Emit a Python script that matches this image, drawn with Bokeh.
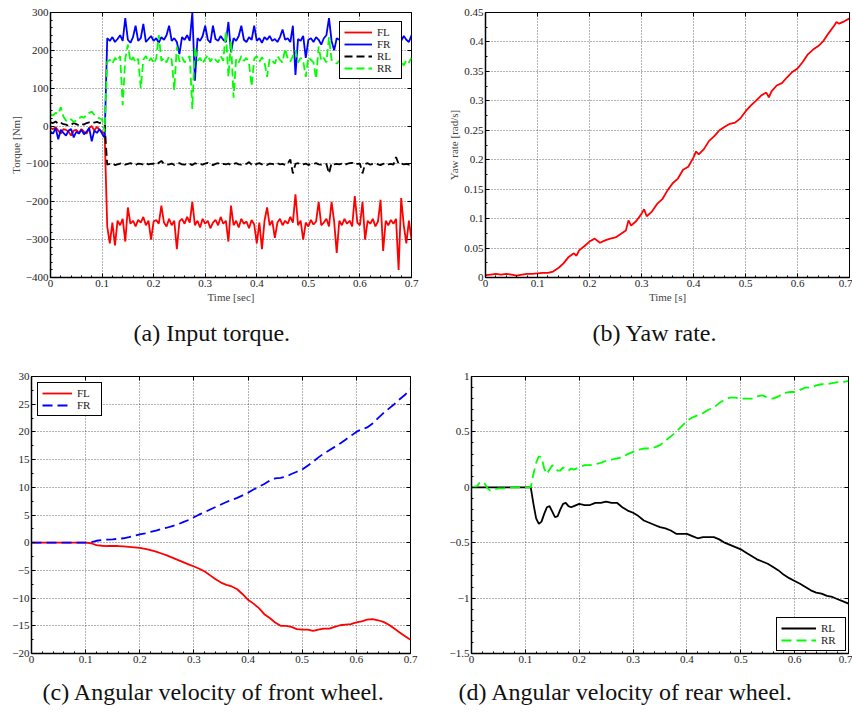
from bokeh.plotting import figure
from bokeh.models import (Range1d, LinearAxis, FixedTicker, Legend, LegendItem,
                          CustomJSTickFormatter, Title, Grid)
from bokeh.layouts import row, column
from bokeh.embed import file_html
from bokeh.resources import INLINE

FONT = "Liberation Serif"

# ---------------- data ----------------
x_ticks = [0.0, 0.1, 0.2, 0.3, 0.4, 0.5, 0.6, 0.7]
torque_ticks = [-400, -300, -200, -100, 0, 100, 200, 300]
yaw_ticks = [0.0, 0.05, 0.1, 0.15, 0.2, 0.25, 0.3, 0.35, 0.4, 0.45]
front_ticks = [-20, -15, -10, -5, 0, 5, 10, 15, 20, 25, 30]
rear_ticks = [-1.5, -1.0, -0.5, 0.0, 0.5, 1.0]

# (a) input torque, sampled every 5 ms
torque_t = [round(0.005 * i, 3) for i in range(141)]
FL_pre = [-5, -8, -3, -12, -20, -8, -10, -15, -25, -12, -10, -18, -8, -15, -20, -5, 0, -12, -2, -10, -15, -20]
FL_post = [-265, -310, -255, -315, -250, -262, -245, -305, -215, -258,
           -250, -265, -248, -255, -240, -262, -250, -300, -252, -248,
           -258, -210, -255, -265, -245, -262, -250, -325, -252, -245,
           -258, -240, -255, -200, -262, -250, -268, -245, -258, -250,
           -270, -255, -248, -262, -240, -258, -250, -305, -210, -262,
           -250, -268, -245, -258, -252, -270, -248, -260, -310, -255,
           -325, -250, -215, -262, -250, -295, -255, -245, -262, -250,
           -258, -240, -255, -180, -262, -250, -300, -255, -265, -248,
           -260, -252, -200, -262, -255, -245, -265, -200, -252, -335,
           -250, -262, -245, -258, -250, -265, -185, -255, -262, -200,
           -300, -250, -258, -245, -265, -252, -195, -330, -250, -262,
           -248, -258, -245, -380, -190, -262, -310, -250, -300]
FR_pre = [-15, -20, -5, -35, -10, -18, -25, -12, -8, -30, -15, -20, -10, -22, -15, -5, -40, -12, -18, -8, -20, -30]
FR_post = [232, 225, 235, 222, 230, 240, 225, 285, 228, 220,
           235, 265, 225, 232, 270, 222, 230, 238, 225, 232,
           220, 235, 228, 240, 265, 225, 232, 222, 190, 235,
           228, 240, 225, 300, 120, 232, 225, 238, 265, 228,
           220, 265, 230, 225, 238, 228, 222, 275, 195, 232,
           225, 238, 265, 228, 222, 235, 228, 265, 225, 232,
           220, 235, 228, 238, 225, 230, 222, 235, 255, 228,
           232, 222, 265, 135, 230, 225, 238, 180, 228, 232,
           222, 235, 228, 215, 232, 240, 285, 225, 200, 232,
           228, 238, 265, 225, 232, 222, 235, 228, 222, 232,
           255, 228, 222, 235, 228, 255, 225, 232, 222, 235,
           255, 228, 222, 232, 225, 238, 228, 222, 240]
RL_pre = [10, 8, 12, 6, 9, 5, 4, 0, 3, 8, 5, 2, 6, 4, 8, 10, 12, 9, 11, 8, 10, 5]
RL_post = [-102, -100, -98, -103, -101, -99, -97, -102, -100, -98,
           -101, -103, -99, -100, -102, -98, -101, -100, -99, -103,
           -97, -92, -100, -102, -101, -99, -103, -100, -98, -101,
           -102, -99, -100, -103, -98, -101, -100, -102, -99, -97,
           -101, -103, -100, -98, -102, -100, -101, -99, -103, -100,
           -98, -101, -102, -99, -100, -95, -102, -104, -100, -98,
           -101, -100, -103, -99, -100, -102, -98, -101, -100, -103,
           -99, -88, -125, -100, -98, -102, -101, -99, -103, -100,
           -100, -98, -101, -102, -99, -100, -125, -98, -101, -100,
           -101, -99, -103, -100, -98, -97, -102, -100, -99, -125,
           -100, -98, -102, -100, -99, -101, -103, -100, -98, -101,
           -100, -102, -82, -100, -99, -101, -100, -102, -99]
RR_pre = [30, 28, 35, 32, 50, 25, 15, 12, 18, 10, 15, 20, 25, 22, 30, 35, 38, 30, 25, 20, 18, -15]
RR_post = [170, 175, 165, 180, 172, 185, 55, 178, 215, 170,
           182, 168, 178, 100, 175, 185, 170, 180, 165, 178,
           240, 172, 180, 168, 185, 175, 95, 210, 170, 182,
           168, 178, 185, 45, 210, 172, 180, 165, 178, 188,
           170, 182, 175, 168, 185, 172, 250, 130, 225, 75,
           178, 168, 185, 172, 180, 165, 105, 178, 185, 170,
           182, 168, 130, 178, 172, 165, 185, 175, 168, 205,
           178, 170, 185, 200, 168, 180, 172, 130, 182, 175,
           168, 125, 210, 172, 180, 168, 235, 175, 170, 165,
           172, 168, 175, 165, 140, 172, 168, 175, 165, 170,
           172, 165, 175, 168, 130, 170, 175, 145, 168, 172,
           165, 175, 170, 168, 172, 160, 175, 168, 180]
torque_FL = FL_pre + FL_post
torque_FR = FR_pre + FR_post
torque_RL = RL_pre + RL_post
torque_RR = RR_pre + RR_post

# (b) yaw rate
yaw_t = [0.00, 0.01, 0.02, 0.03, 0.04, 0.05, 0.06, 0.07, 0.08, 0.09,
         0.10, 0.11, 0.12, 0.13, 0.14, 0.145, 0.15, 0.16, 0.17, 0.175,
         0.18, 0.19, 0.20, 0.21, 0.22, 0.23, 0.24, 0.25, 0.26, 0.27,
         0.275, 0.28, 0.29, 0.30, 0.305, 0.31, 0.32, 0.33, 0.34, 0.35,
         0.36, 0.37, 0.38, 0.39, 0.40, 0.405, 0.41, 0.42, 0.43, 0.44,
         0.45, 0.46, 0.47, 0.48, 0.49, 0.50, 0.51, 0.52, 0.53, 0.54,
         0.545, 0.55, 0.56, 0.57, 0.58, 0.59, 0.60, 0.61, 0.62, 0.63,
         0.64, 0.65, 0.66, 0.67, 0.675, 0.68, 0.69, 0.70]
yaw_rate = [0.004, 0.005, 0.006, 0.005, 0.006, 0.005, 0.003, 0.005, 0.006, 0.006,
            0.007, 0.008, 0.008, 0.010, 0.016, 0.020, 0.024, 0.035, 0.041, 0.037,
            0.046, 0.053, 0.061, 0.066, 0.059, 0.063, 0.066, 0.068, 0.074, 0.080,
            0.097, 0.088, 0.096, 0.108, 0.116, 0.104, 0.112, 0.125, 0.133, 0.148,
            0.160, 0.168, 0.183, 0.188, 0.204, 0.214, 0.209, 0.218, 0.232, 0.240,
            0.250, 0.256, 0.261, 0.263, 0.270, 0.282, 0.292, 0.300, 0.309, 0.314,
            0.306, 0.316, 0.326, 0.330, 0.340, 0.349, 0.355, 0.366, 0.379, 0.387,
            0.393, 0.402, 0.415, 0.427, 0.434, 0.431, 0.435, 0.440]

# (c) angular velocity of front wheels
front_t = [round(0.01 * i, 2) for i in range(71)]
front_FL = [0, 0, 0, 0, 0, 0, 0, 0, 0, 0, 0,
            -0.1, -0.45, -0.55, -0.6, -0.6, -0.6, -0.65, -0.75, -0.85, -0.95,
            -1.1, -1.35, -1.6, -1.95, -2.3, -2.7, -3.1, -3.5, -3.9, -4.3,
            -4.7, -5.2, -5.9, -6.6, -7.2, -7.6, -7.9, -8.4, -9.3, -10.3,
            -11.0, -11.8, -12.9, -13.6, -14.4, -15.0, -15.0, -15.2, -15.6, -15.7,
            -15.7, -15.9, -15.7, -15.5, -15.5, -15.2, -14.9, -14.8, -14.7, -14.4,
            -14.2, -13.9, -13.8, -14.0, -14.3, -14.8, -15.5, -16.2, -16.9, -17.5]
front_FR = [0, 0, 0, 0, 0, 0, 0, 0, 0, 0, 0,
            0.1, 0.35, 0.5, 0.55, 0.6, 0.7, 0.8, 1.0, 1.25, 1.5,
            1.7, 1.95, 2.2, 2.45, 2.7, 3.0, 3.3, 3.7, 4.1, 4.6,
            5.1, 5.5, 6.0, 6.45, 6.9, 7.35, 7.75, 8.1, 8.55, 9.0,
            9.6, 10.1, 10.6, 11.2, 11.6, 11.7, 11.9, 12.4, 12.8, 13.2,
            13.9, 14.6, 15.4, 16.1, 16.7, 17.3, 17.9, 18.6, 19.3, 20.0,
            20.5, 20.8, 21.5, 22.5, 23.4, 24.2, 25.0, 25.9, 26.7, 27.7]

# (d) angular velocity of rear wheels
rear_t = [0.00, 0.01, 0.015, 0.02, 0.025, 0.03, 0.035, 0.04, 0.05, 0.06,
          0.07, 0.08, 0.09, 0.10, 0.11,
          0.115, 0.12, 0.125, 0.13, 0.135, 0.14, 0.145, 0.15, 0.155, 0.16,
          0.165, 0.17, 0.175, 0.18, 0.185, 0.19,
          0.20, 0.21, 0.22, 0.23, 0.24, 0.25, 0.26, 0.27, 0.28, 0.29,
          0.30, 0.31, 0.32, 0.33, 0.34, 0.35, 0.36, 0.37, 0.38, 0.39,
          0.40, 0.41, 0.42, 0.43, 0.44, 0.45, 0.46, 0.47, 0.48, 0.49,
          0.50, 0.51, 0.52, 0.53, 0.54, 0.55, 0.56, 0.57, 0.58, 0.59,
          0.60, 0.61, 0.62, 0.63, 0.64, 0.65, 0.66, 0.67, 0.68, 0.69, 0.70]
rear_RL = [0, 0, 0, 0, 0, 0, 0, 0, 0, 0,
           0, 0, 0, 0, 0,
           -0.15, -0.28, -0.33, -0.31, -0.24, -0.18, -0.17, -0.22, -0.27, -0.26,
           -0.20, -0.15, -0.14, -0.17, -0.18, -0.17,
           -0.15, -0.16, -0.16, -0.14, -0.14, -0.13, -0.14, -0.14, -0.18, -0.21,
           -0.23, -0.26, -0.30, -0.32, -0.34, -0.36, -0.37, -0.39, -0.42, -0.42,
           -0.42, -0.44, -0.46, -0.45, -0.45, -0.45, -0.47, -0.50, -0.52, -0.54,
           -0.56, -0.59, -0.62, -0.65, -0.67, -0.69, -0.72, -0.75, -0.79, -0.82,
           -0.845, -0.87, -0.90, -0.93, -0.95, -0.96, -0.98, -0.99, -1.01, -1.03, -1.05]
rear_RR = [0.0, 0.01, 0.04, 0.05, 0.03, -0.01, -0.03, -0.02, -0.01, -0.01,
           0.0, 0.0, 0.0, 0.0, 0.0,
           0.12, 0.22, 0.28, 0.27, 0.17, 0.12, 0.16, 0.20, 0.18, 0.15,
           0.15, 0.18, 0.16, 0.15, 0.17, 0.16,
           0.18, 0.20, 0.20, 0.21, 0.22, 0.24, 0.25, 0.26, 0.27, 0.30,
           0.32, 0.34, 0.35, 0.35, 0.36, 0.38, 0.42, 0.46, 0.50, 0.55,
           0.60, 0.63, 0.65, 0.67, 0.70, 0.72, 0.76, 0.79, 0.81, 0.81,
           0.80, 0.80, 0.80, 0.82, 0.83, 0.81, 0.80, 0.82, 0.85, 0.86,
           0.86, 0.88, 0.90, 0.90, 0.92, 0.93, 0.93, 0.94, 0.95, 0.95, 0.96]

# ---------------- helpers ----------------
FMT_CODE = """
var v = Math.round(tick * 1000) / 1000;
return String(v).replace('-', '\\u2212');
"""


def minors(ticks, n):
    out = []
    for a, b in zip(ticks[:-1], ticks[1:]):
        step = (b - a) / n
        out += [a + step * k for k in range(1, n)]
    return out


def hidden_axis(p, side, positions, length):
    ax = LinearAxis(ticker=FixedTicker(ticks=[], minor_ticks=positions))
    ax.major_tick_in = 0
    ax.major_tick_out = 0
    ax.minor_tick_in = length
    ax.minor_tick_out = 0
    ax.minor_tick_line_color = "black"
    ax.axis_line_color = None
    ax.major_label_standoff = 0
    p.add_layout(ax, side)


def build(w, h, yr, yticks, y_minor, borders, caption, cap_offset, cap_standoff,
          xlabel=None, ylabel=None):
    L, R, T, B = borders
    p = figure(width=w, height=h, output_backend="svg", toolbar_location=None, tools="",
               x_range=Range1d(x_ticks[0], x_ticks[-1]), y_range=Range1d(*yr),
               x_axis_type=None, y_axis_type=None,
               min_border_left=L, min_border_right=R, min_border_top=T, min_border_bottom=B)
    p.outline_line_color = "black"
    p.outline_line_width = 1
    p.outline_line_alpha = 1
    p.background_fill_color = "white"
    p.border_fill_color = "white"
    xmin = minors(x_ticks, 5)
    ymin = minors(yticks, y_minor)
    xt = FixedTicker(ticks=x_ticks, minor_ticks=xmin)
    yt = FixedTicker(ticks=yticks, minor_ticks=ymin)
    for side, ticker, label in (("below", xt, xlabel), ("left", yt, ylabel)):
        ax = LinearAxis(ticker=ticker, formatter=CustomJSTickFormatter(code=FMT_CODE))
        ax.major_tick_in = 4
        ax.major_tick_out = 0
        ax.minor_tick_in = 2
        ax.minor_tick_out = 0
        ax.major_tick_line_color = "black"
        ax.minor_tick_line_color = "black"
        ax.major_label_text_font = FONT
        ax.major_label_text_font_size = "11px"
        ax.major_label_text_color = "#222222"
        ax.major_label_standoff = 2
        ax.axis_line_color = "black"
        ax.axis_line_width = 1.5
        if label:
            ax.axis_label = label
            ax.axis_label_text_font = FONT
            ax.axis_label_text_font_size = "11px"
            ax.axis_label_text_font_style = "normal"
            ax.axis_label_text_color = "#444444"
            ax.axis_label_standoff = 1
        p.add_layout(ax, side)
    # tick marks on the top and right edges (box on)
    hidden_axis(p, "above", x_ticks, 4)
    hidden_axis(p, "right", yticks, 4)
    for dim, tk in ((0, xt), (1, yt)):
        p.add_layout(Grid(dimension=dim, ticker=tk, grid_line_color="black", grid_line_alpha=0.6,
                          grid_line_dash="1 2", grid_line_width=1))
    p.add_layout(Title(text=caption, align="left", vertical_align="top", offset=cap_offset,
                       standoff=cap_standoff, text_font=FONT, text_font_size="24px",
                       text_font_style="normal", text_color="#111111"), "below")
    return p


def add_legend(p, items, location, margin, width):
    lg = Legend(items=items, location=location, margin=margin, padding=4, spacing=0,
                label_text_font=FONT, label_text_font_size="11px", label_text_color="#222222",
                glyph_width=width, glyph_height=10, label_height=10, label_standoff=5,
                border_line_color="black", border_line_width=1, border_line_alpha=1,
                background_fill_color="white", background_fill_alpha=1)
    p.add_layout(lg)


RED, BLUE, GREEN, BLACK = "#ff0000", "#0000ff", "#00ff00", "#000000"

# (a)
pa = build(430, 364, (torque_ticks[0], torque_ticks[-1]), torque_ticks, 5, (50, 19, 12, 87),
           "(a) Input torque.", 83, 29, xlabel="Time [sec]", ylabel="Torque [Nm]")
r1 = pa.line(torque_t, torque_FL, line_color=RED, line_width=1.8)
r2 = pa.line(torque_t, torque_FR, line_color=BLUE, line_width=1.8)
r3 = pa.line(torque_t, torque_RL, line_color=BLACK, line_width=1.8, line_dash="8 4")
r4 = pa.line(torque_t, torque_RR, line_color=GREEN, line_width=1.8, line_dash="8 4")
add_legend(pa, [LegendItem(label="FL", renderers=[r1]), LegendItem(label="FR", renderers=[r2]),
                LegendItem(label="RL", renderers=[r3]), LegendItem(label="RR", renderers=[r4])],
           "top_right", 9, 28)

# (b)
pb = build(422, 364, (yaw_ticks[0], yaw_ticks[-1]), yaw_ticks, 2, (55, 3, 5, 87),
           "(b) Yaw rate.", 107, 29, xlabel="Time [s]", ylabel="Yaw rate [rad/s]")
pb.line(yaw_t, yaw_rate, line_color=RED, line_width=1.8)

# (c)
pc = build(430, 356, (front_ticks[0], front_ticks[-1]), front_ticks, 2, (31, 20, 10, 66),
           "(c) Angular velocity of front wheel.", 11, 27)
c1 = pc.line(front_t, front_FL, line_color=RED, line_width=1.8)
c2 = pc.line(front_t, front_FR, line_color=BLUE, line_width=1.8, line_dash="10 5")
add_legend(pc, [LegendItem(label="FL", renderers=[c1]), LegendItem(label="FR", renderers=[c2])],
           "top_left", 6, 30)

# (d)
pd = build(422, 356, (rear_ticks[0], rear_ticks[-1]), rear_ticks, 5, (41, 4, 12, 66),
           "(d) Angular velocity of rear wheel.", -13, 27)
d1 = pd.line(rear_t, rear_RL, line_color=BLACK, line_width=1.8)
d2 = pd.line(rear_t, rear_RR, line_color=GREEN, line_width=1.8, line_dash="10 5")
add_legend(pd, [LegendItem(label="RL", renderers=[d1]), LegendItem(label="RR", renderers=[d2])],
           "bottom_right", 2, 35)

layout = column(row(pa, pb), row(pc, pd))
open("out.html", "w").write(file_html(layout, INLINE))
